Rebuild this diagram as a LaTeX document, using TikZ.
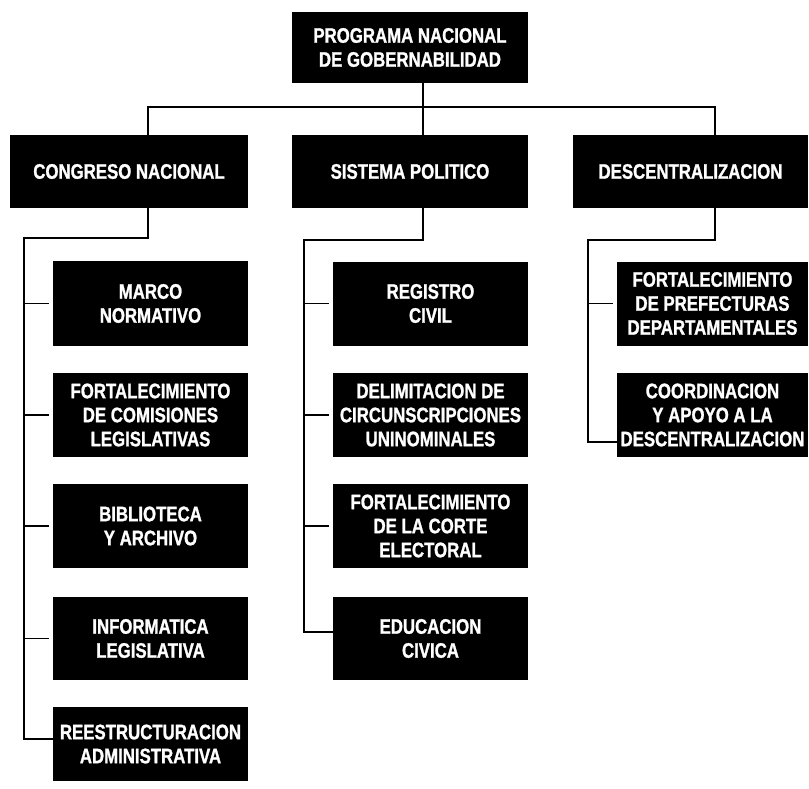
\documentclass[tikz,border=0pt]{standalone}
\usepackage{fontspec}
\newfontfamily\boxfont[FakeStretch=0.8,BoldFeatures={FakeBold=1.2}]{Liberation Sans}
\begin{document}
\begin{tikzpicture}[x=1pt,y=-1pt,
  box/.style={fill=black,text=white,align=center,inner sep=0pt,anchor=center,
    font=\boxfont\bfseries\fontsize{21}{24}\selectfont},
  lvl/.style={box,minimum height=73pt},
  cA/.style={box,minimum width=195pt},
  cB/.style={box,minimum width=195pt},
  cC/.style={box,minimum width=191pt},
  conn/.style={line width=2pt,line join=miter},
  tick/.style={line width=1.5pt,shorten >=4pt}]
\useasboundingbox (0,0) rectangle (809,789);
% top
\node[box,minimum width=236pt,minimum height=71pt] (top) at (410,47.5) {PROGRAMA NACIONAL\\DE GOBERNABILIDAD};
% level 2
\node[lvl,minimum width=238pt] (cong) at (129,171.5) {CONGRESO NACIONAL};
\node[lvl,minimum width=236pt] (sis) at (410,171.5) {SISTEMA POLITICO};
\node[lvl,minimum width=235pt] (desc) at (690.5,171.5) {DESCENTRALIZACION};
% column 1
\node[cA,minimum height=85pt] (marco) at (150.5,303.5) {MARCO\\NORMATIVO};
\node[cA,minimum height=84pt] (fcom) at (150.5,415) {FORTALECIMIENTO\\DE COMISIONES\\LEGISLATIVAS};
\node[cA,minimum height=84pt] (bibl) at (150.5,526) {BIBLIOTECA\\Y ARCHIVO};
\node[cA,minimum height=83pt] (info) at (150.5,638.5) {INFORMATICA\\LEGISLATIVA};
\node[cA,minimum height=74pt] (rees) at (150.5,744) {REESTRUCTURACION\\ADMINISTRATIVA};
% column 2
\node[cB,minimum height=84pt] (reg) at (430.5,303.5) {REGISTRO\\CIVIL};
\node[cB,minimum height=84pt] (delim) at (430.5,415) {DELIMITACION DE\\CIRCUNSCRIPCIONES\\UNINOMINALES};
\node[cB,minimum height=84pt] (fcor) at (430.5,526) {FORTALECIMIENTO\\DE LA CORTE\\ELECTORAL};
\node[cB,minimum height=83pt] (educ) at (430.5,638.5) {EDUCACION\\CIVICA};
% column 3
\node[cC,minimum height=84pt] (fpre) at (712.5,303.5) {FORTALECIMIENTO\\DE PREFECTURAS\\DEPARTAMENTALES};
\node[cC,minimum height=84pt] (coord) at (712.5,415) {COORDINACION\\Y APOYO A LA\\DESCENTRALIZACION};
% connectors top
\coordinate (bus) at (0,107);
\draw[conn] ([xshift=13pt]top.south) -- ([xshift=13pt]sis.north);
\draw[conn] ([xshift=19pt]cong.north) -- ([xshift=19pt]cong.north |- bus)
  -- ([xshift=24pt]desc.north |- bus) -- ([xshift=24pt]desc.north);
% column 1 connectors
\coordinate (t1) at (24,238);
\draw[conn] ([xshift=19pt]cong.south) |- (t1) |- ([yshift=5pt]rees.west);
\foreach \n in {marco,fcom,bibl,info}{\draw[tick] (t1 |- \n.west) -- (\n.west);}
% column 2 connectors
\coordinate (t2) at (304,240);
\draw[conn] ([xshift=13pt]sis.south) |- (t2) |- ([yshift=7pt]educ.west);
\foreach \n in {reg,delim,fcor}{\draw[tick] (t2 |- \n.west) -- (\n.west);}
% column 3 connectors
\coordinate (t3) at (588,240);
\draw[conn] ([xshift=24pt]desc.south) |- (t3) |- ([yshift=-27pt]coord.west);
\draw[tick] (t3 |- fpre.west) -- (fpre.west);
\end{tikzpicture}
\end{document}
